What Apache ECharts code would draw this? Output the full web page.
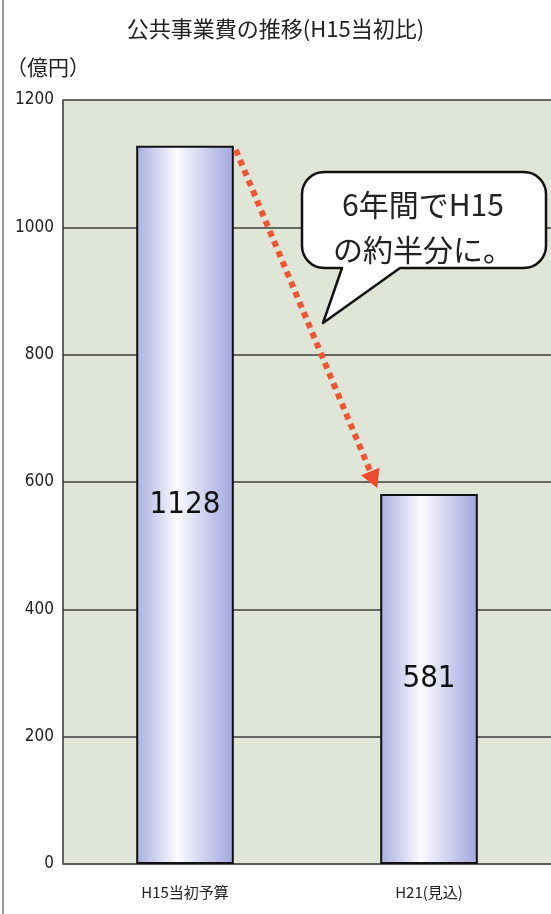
<!DOCTYPE html>
<html>
<head>
<meta charset="utf-8">
<script src="https://cdn.jsdelivr.net/npm/echarts@6/dist/echarts.min.js"></script>
<style>
  html, body { margin: 0; padding: 0; background: #fff; }
  #main { width: 551px; height: 914px; }
</style>
</head>
<body>
<div id="main"></div>
<script>
// データ
const categories = ['H15当初予算', 'H21(見込)']
const values = [1128, 581]
const yTicks = [0, 200, 400, 600, 800, 1000, 1200]

const narrow = "'DejaVu Sans Condensed', 'Noto Sans', sans-serif"
const jp = "'Noto Sans CJK JP', sans-serif"

const chart = echarts.init(document.getElementById('main'))

// 棒のグラデーション（左右）
const barColor = new echarts.graphic.LinearGradient(0, 0, 1, 0, [
  { offset: 0, color: '#a9ade0' },
  { offset: 0.42, color: '#fbfbff' },
  { offset: 0.82, color: '#bcbfe8' },
  { offset: 1, color: '#a3a7db' }
])

const option = {
  animation: false,
  backgroundColor: '#fff',
  title: {
    text: '公共事業費の推移(H15当初比)',
    left: 'center',
    top: 13,
    textStyle: { fontFamily: jp, fontSize: 22, fontWeight: 'normal', color: '#222' }
  },
  grid: {
    left: 63,
    right: 0,
    top: 100,
    bottom: 50,
    show: true,
    backgroundColor: '#dfe6d7',
    borderWidth: 0
  },
  xAxis: {
    type: 'category',
    data: categories,
    axisLine: { lineStyle: { color: '#555', width: 1.5 } },
    axisTick: { show: false },
    axisLabel: { fontFamily: jp, fontSize: 15, color: '#222', margin: 21 }
  },
  yAxis: {
    type: 'value',
    min: yTicks[0],
    max: yTicks[yTicks.length - 1],
    interval: 200,
    name: '（億円）',
    nameLocation: 'end',
    nameGap: 22,
    nameTextStyle: { fontFamily: jp, fontSize: 21, color: '#222', align: 'center', padding: [0, 30, 0, 0] },
    axisLine: { show: true, lineStyle: { color: '#333', width: 1.5 } },
    axisTick: { show: false },
    axisLabel: {
      fontFamily: narrow,
      fontSize: 17,
      color: '#222',
      margin: 9,
      formatter: function (v) { return String(v) }
    },
    splitLine: { lineStyle: { color: '#3c3c3c', width: 1.5 } }
  },
  series: [{
    type: 'bar',
    data: values,
    barWidth: '40%',
    itemStyle: { color: barColor, borderColor: '#111', borderWidth: 2 },
    label: {
      show: true,
      position: 'inside',
      fontFamily: narrow,
      fontSize: 31,
      color: '#111'
    },
    z: 3
  }]
}

chart.setOption(option)

// 矢印
const bw = chart.getModel().getSeriesByIndex(0).getData().getLayout('size') || 98
const p0 = chart.convertToPixel({ seriesIndex: 0 }, [0, values[0]])
const p1 = chart.convertToPixel({ seriesIndex: 0 }, [1, values[1]])
const start = [p0[0] + bw / 2 + 2, p0[1] + 4]
const tip = [p1[0] - bw / 2 - 3, p1[1] - 6]
const ang = Math.atan2(tip[1] - start[1], tip[0] - start[0])
const headLen = 18
const headW = 10
const base = [tip[0] - headLen * Math.cos(ang), tip[1] - headLen * Math.sin(ang)]
const nx = -Math.sin(ang)
const ny = Math.cos(ang)

// 吹き出しの輪郭（角丸＋しっぽ）
function roundCorner (pts, cx, cy, r, a0, a1) {
  for (let i = 0; i <= 8; i++) {
    const a = a0 + (a1 - a0) * i / 8
    pts.push([cx + r * Math.cos(a), cy + r * Math.sin(a)])
  }
}
const bx0 = 302, bx1 = 546, by0 = 172, by1 = 268, br = 22
const bubble = []
roundCorner(bubble, bx0 + br, by0 + br, br, Math.PI, Math.PI * 1.5)
roundCorner(bubble, bx1 - br, by0 + br, br, Math.PI * 1.5, Math.PI * 2)
roundCorner(bubble, bx1 - br, by1 - br, br, 0, Math.PI * 0.5)
bubble.push([400, by1], [323, 323], [342, by1])
roundCorner(bubble, bx0 + br, by1 - br, br, Math.PI * 0.5, Math.PI)

chart.setOption({
  graphic: [
    {
      type: 'line',
      shape: { x1: 3, y1: 0, x2: 3, y2: 914 },
      style: { stroke: '#777', lineWidth: 1.5 },
      z: 10
    },
    {
      type: 'line',
      shape: { x1: start[0], y1: start[1], x2: base[0], y2: base[1] },
      style: { stroke: '#ee5533', lineWidth: 6, lineDash: [6, 5] },
      z: 20
    },
    {
      type: 'polygon',
      shape: {
        points: [tip,
          [base[0] + nx * headW, base[1] + ny * headW],
          [base[0] - nx * headW, base[1] - ny * headW]]
      },
      style: { fill: '#ee4a2c' },
      z: 20
    },
    {
      type: 'polygon',
      shape: { points: bubble },
      style: { fill: '#fff', stroke: '#111', lineWidth: 2.5, lineJoin: 'round' },
      z: 30
    },
    {
      type: 'text',
      x: 423,
      y: 227,
      style: {
        text: '6年間でH15\nの約半分に。',
        fontFamily: jp,
        fontSize: 30,
        lineHeight: 45,
        fill: '#222',
        align: 'center',
        verticalAlign: 'middle'
      },
      z: 31
    }
  ]
})
</script>
</body>
</html>
